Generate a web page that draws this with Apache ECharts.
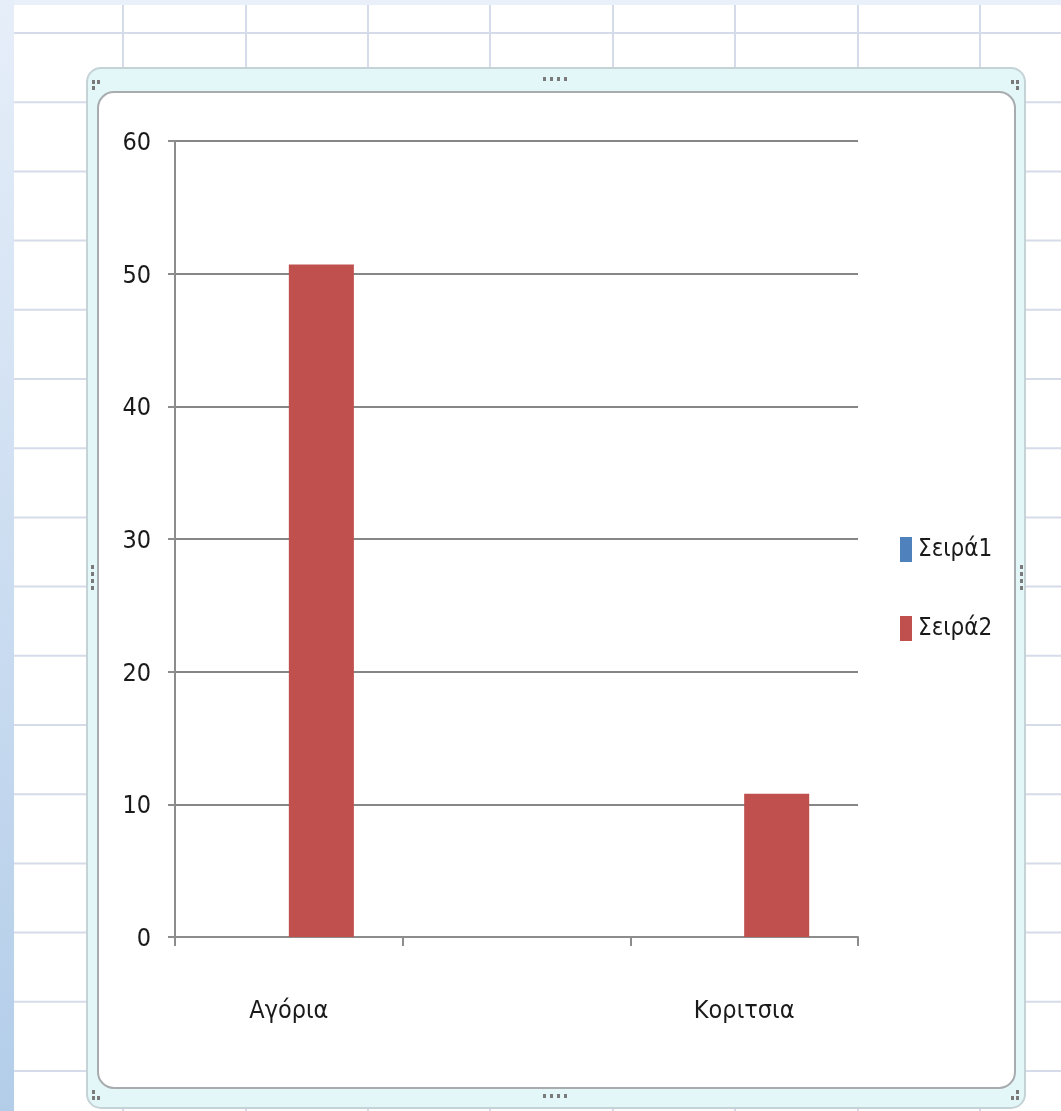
<!DOCTYPE html>
<html>
<head>
<meta charset="utf-8">
<script src="https://cdn.jsdelivr.net/npm/echarts@6/dist/echarts.min.js"></script>
<style>
html,body{margin:0;padding:0;background:#fff;}
#c{width:1061px;height:1111px;}
</style>
</head>
<body>
<div id="c"></div>
<script>
const categories = ['Αγόρια', '', 'Κοριτσια'];
const seriesNames = ['Σειρά1', 'Σειρά2'];
const seira1 = [null, null, null];
const seira2 = [50.7, null, 10.8];
const yTicks = [0, 10, 20, 30, 40, 50, 60];

const FONT = "'Liberation Sans Narrow', 'DejaVu Sans Condensed', 'Arial Narrow', sans-serif";
const W = 1061, H = 1111;

// decorative spreadsheet background
const bg = [];
bg.push({type:'rect', shape:{x:0,y:0,width:W,height:H}, style:{fill:'#ffffff'}, z:-10, silent:true});
const vx = [123, 246, 368, 490, 613, 735, 858, 980];
vx.forEach(x => bg.push({type:'line', shape:{x1:x,y1:0,x2:x,y2:H}, style:{stroke:'#d5dbe8', lineWidth:2}, z:-9, silent:true}));
for (let y = 33; y < H; y += 69.2) {
  bg.push({type:'line', shape:{x1:14,y1:y,x2:W,y2:y}, style:{stroke:'#d5dbe8', lineWidth:2}, z:-9, silent:true});
}
bg.push({type:'rect', shape:{x:0,y:0,width:W,height:5}, style:{fill:'#e9f0f9'}, z:-8, silent:true});
bg.push({type:'rect', shape:{x:0,y:0,width:14,height:H}, style:{fill:new echarts.graphic.LinearGradient(0,0,0,1,[{offset:0,color:'#e6eef9'},{offset:1,color:'#b3cde9'}])}, z:-8, silent:true});
// chart frame
bg.push({type:'rect', shape:{x:87,y:68,width:938,height:1040,r:14}, style:{fill:'#e3f7f9', stroke:'#c5d3d6', lineWidth:2}, z:-7, silent:true});
bg.push({type:'rect', shape:{x:98,y:92,width:917,height:996,r:16}, style:{fill:'#ffffff', stroke:'#a8acae', lineWidth:2}, z:-6, silent:true});
// handles
function dot(x,y){ bg.push({type:'rect', shape:{x:x,y:y,width:3,height:4}, style:{fill:'#7a7a7a'}, z:-5, silent:true}); }
[543,550,557,564].forEach(x => { dot(x,77); dot(x,1094); });
[565,572,579,586].forEach(y => { dot(91,y); dot(1020,y); });
dot(92,80); dot(97,80); dot(92,86);
dot(1011,80); dot(1016,80); dot(1016,86);
dot(92,1090); dot(92,1096); dot(97,1096);
dot(1016,1090); dot(1011,1096); dot(1016,1096);

const chart = echarts.init(document.getElementById('c'), null, {renderer:'canvas'});
chart.setOption({
  animation: false,
  backgroundColor: 'transparent',
  graphic: bg,
  grid: {left:175, right:203, top:141, bottom:174, containLabel:false},
  legend: {
    orient:'vertical', left:895, top:532,
    itemWidth:12, itemHeight:25, itemGap:54,
    icon:'rect',
    data: seriesNames,
    textStyle:{fontFamily:FONT, fontSize:24, color:'#1a1a1a', padding:[0,0,0,1]}
  },
  xAxis: {
    type:'category', data: categories,
    axisLine:{lineStyle:{color:'#8c8c8c', width:2}},
    axisTick:{show:true, alignWithLabel:false, length:9, lineStyle:{color:'#8c8c8c', width:2}},
    axisLabel:{fontFamily:FONT, fontSize:25, color:'#1a1a1a', margin:62, interval:0}
  },
  yAxis: {
    type:'value', min:yTicks[0], max:yTicks[yTicks.length-1], interval:10,
    axisLine:{show:true, lineStyle:{color:'#8c8c8c', width:2}},
    axisTick:{show:true, length:7, lineStyle:{color:'#8c8c8c', width:2}},
    splitLine:{lineStyle:{color:'#868686', width:2}},
    axisLabel:{fontFamily:FONT, fontSize:25, color:'#1a1a1a', margin:24, verticalAlign:'top', padding:[-10,0,0,0]}
  },
  series: [
    {name:seriesNames[0], type:'bar', data:seira1, itemStyle:{color:'#4f81bd'}, barGap:'0%', barCategoryGap:'42.86%'},
    {name:seriesNames[1], type:'bar', data:seira2, itemStyle:{color:'#c0504d'}, barGap:'0%', barCategoryGap:'42.86%'}
  ]
});
</script>
</body>
</html>
